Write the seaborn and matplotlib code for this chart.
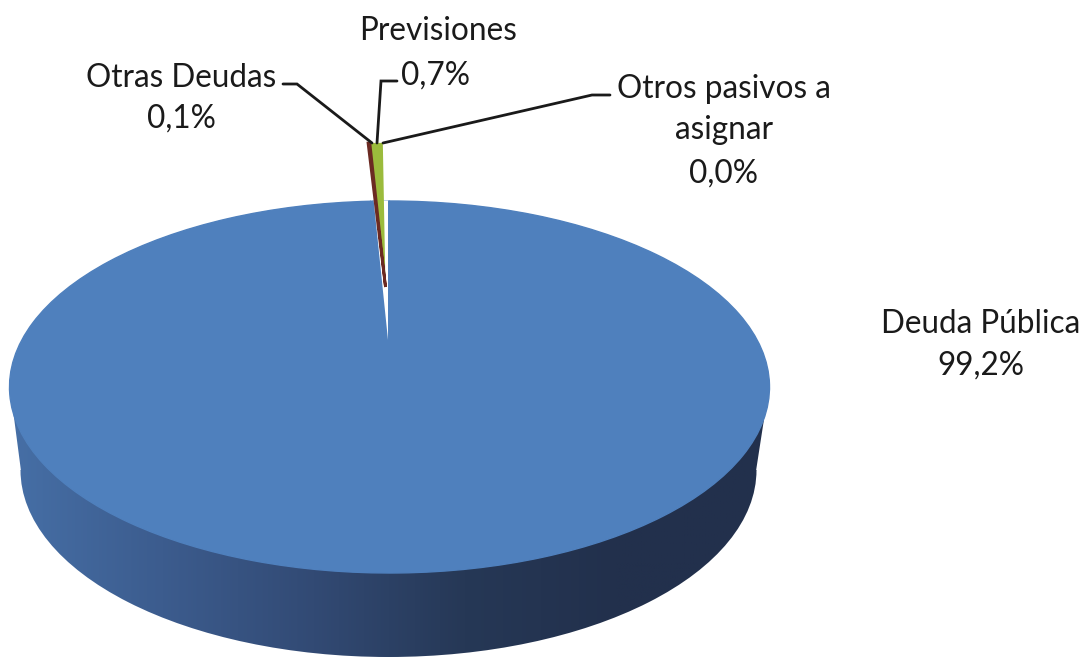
"""3D style pie chart of liabilities"""

import numpy as np
import matplotlib.pyplot as plt
from matplotlib.colors import LinearSegmentedColormap
from matplotlib.patches import Ellipse, Polygon
import seaborn as sns

# Data
categories = ["Deuda Pública", "Otras Deudas", "Previsiones", "Otros pasivos a\nasignar"]
shares = [99.2, 0.1, 0.7, 0.0]
share_labels = ["99,2%", "0,1%", "0,7%", "0,0%"]
slice_colors = ["#4f80bd", "#6b2a22", "#9bbb3c", "#7d5fa0"]
wall_colors = ["#466fa6", "#3c5c8e", "#324a74", "#263856", "#22304c", "#22304c"]

W, H = 1089, 657
CX, CY, RX, RY = 389.5, 387, 380, 186

sns.set_theme(style="white")
plt.rcParams["font.family"] = ["Lato", "DejaVu Sans"]

fig = plt.figure(figsize=(W / 100, H / 100), dpi=100, facecolor="white")
ax = fig.add_axes([0, 0, 1, 1])


def dx(px):
    return (px - CX) / RX


def dy(py):
    return (CY - py) / RY


# Side wall, drawn as a horizontal gradient clipped to the lower body
cmap = LinearSegmentedColormap.from_list("wall", sns.blend_palette(wall_colors, 256))
gradient = np.linspace(0, 1, 256).reshape(1, -1)
wall = ax.imshow(gradient, cmap=cmap, aspect="auto", zorder=1,
                 extent=[dx(10), dx(769), dy(657), dy(470)])
bottom = Ellipse((dx(388.5), dy(470)), 2 * 368 / RX, 2 * 187 / RY, transform=ax.transData,
                 facecolor="none", edgecolor="none")
ax.add_patch(bottom)
wall.set_clip_path(bottom)
upper = ax.imshow(gradient, cmap=cmap, aspect="auto", zorder=1,
                  extent=[dx(10), dx(769), dy(471), dy(387)])
body = Polygon([(dx(10), dy(387)), (dx(769), dy(387)), (dx(756), dy(471)), (dx(21), dy(471))],
               transform=ax.transData, facecolor="none", edgecolor="none")
ax.add_patch(body)
upper.set_clip_path(body)

# Top face
ax.pie(shares, colors=[slice_colors[0]] * 4, startangle=90, counterclock=False,
       radius=1, center=(0, 0), frame=True,
       wedgeprops={"linewidth": 1, "edgecolor": slice_colors[0], "zorder": 2})

# White gap left by the pulled-out slices
gap = sum(shares[1:]) / 100
ax.pie([1 - gap, gap], colors=["none", "white"], startangle=90, counterclock=False,
       radius=0.75, center=(dx(388), dy(340)), frame=True,
       wedgeprops={"linewidth": 0, "zorder": 3})

# Pulled-out small slices
small, _ = ax.pie([s / 100 for s in shares[1:]], colors=slice_colors[1:], normalize=False,
                  startangle=93.4, counterclock=False,
                  radius=0.775, center=(dx(385.5), dy(287)), frame=True,
                  wedgeprops={"linewidth": 0, "zorder": 4})
small[0].set_edgecolor(slice_colors[1])
small[0].set_linewidth(2)
small[0].set_zorder(5)

ax.set_aspect("auto")
ax.set_xlim(dx(0), dx(W))
ax.set_ylim(dy(H), dy(0))
ax.axis("off")

# Leader lines
leaders = [([283, 297, 372], [84, 84, 143]),
           ([397, 381, 377], [81, 81, 143]),
           ([610, 592, 383], [95, 95, 143])]
for xs, ys in leaders:
    ax.plot([dx(x) for x in xs], [dy(y) for y in ys], color="#1a1a1a", lw=2, zorder=6,
            solid_joinstyle="miter")


def label(px, py, text):
    ax.text(dx(px), dy(py), text, ha="center", va="center", fontsize=22.7, color="#1a1a1a", zorder=7)


label(981, 324, categories[0])
label(981, 366, share_labels[0])
label(181, 78, categories[1])
label(181, 119, share_labels[1])
label(438, 31, categories[2])
label(436, 76, share_labels[2])
first, second = categories[3].split("\n")
label(724, 89, first)
label(724, 130, second)
label(724, 174, share_labels[3])

fig.savefig("out.png", dpi=100)
